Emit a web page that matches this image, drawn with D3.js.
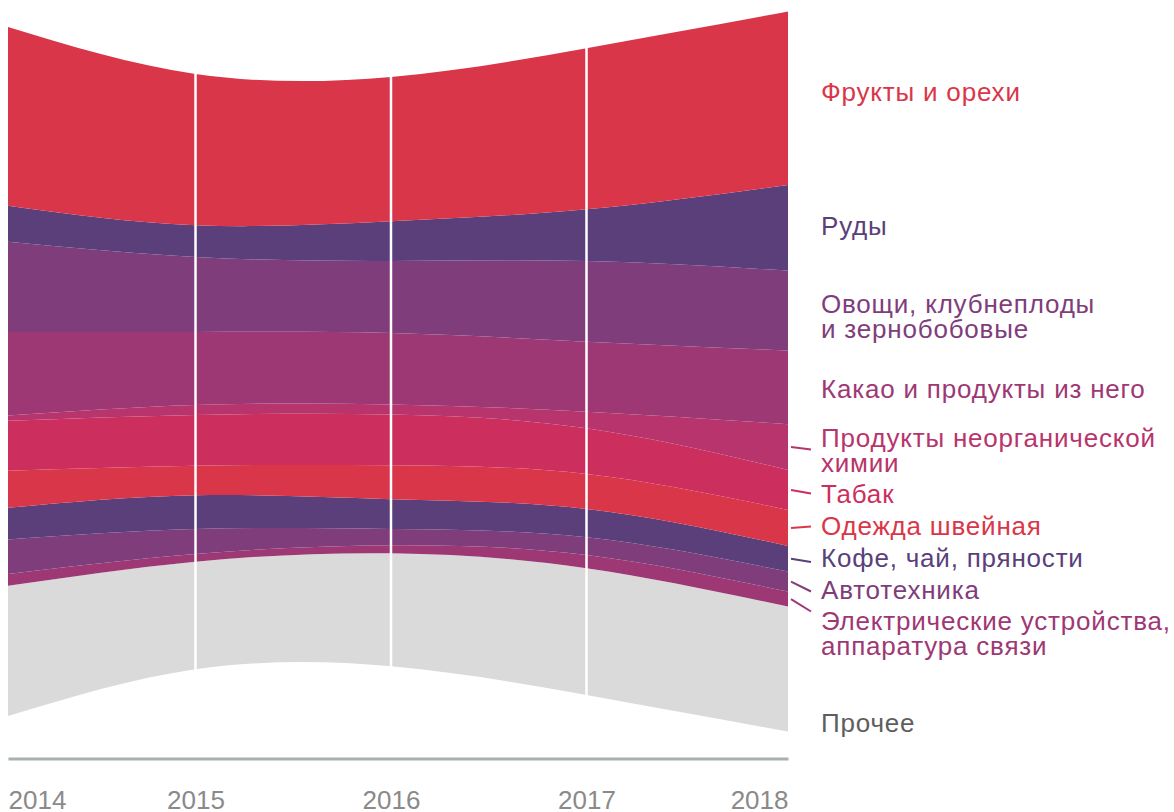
<!DOCTYPE html>
<html>
<head>
<meta charset="utf-8">
<script src="https://cdn.jsdelivr.net/npm/d3@7"></script>
<style>
  body { margin: 0; background: #fff; }
  svg { display: block; }
  text { font-family: "Liberation Sans", Arial, sans-serif; }
</style>
</head>
<body>
<script>
// years and categories (top to bottom as drawn)
const years = [2014, 2015, 2016, 2017, 2018];
const categories = [
  "Фрукты и орехи",
  "Руды",
  "Овощи, клубнеплоды и зернобобовые",
  "Какао и продукты из него",
  "Продукты неорганической химии",
  "Табак",
  "Одежда швейная",
  "Кофе, чай, пряности",
  "Автотехника",
  "Электрические устройства, аппаратура связи",
  "Прочее"
];

// series values, one per category, by year
const fruitsNuts   = [178.7, 151.3, 144.3, 161.0, 173.3];
const ores         = [36.0, 31.7, 39.7, 51.7, 85.7];
const vegetables   = [90.3, 75.0, 72.0, 80.7, 80.0];
const cocoa        = [83.5, 73.0, 71.5, 70.0, 73.6];
const inorganic    = [5.2, 10.0, 10.0, 16.6, 45.7];
const tobacco      = [50.0, 50.7, 50.8, 45.7, 40.0];
const clothing     = [37.0, 29.6, 33.9, 35.0, 36.0];
const coffeeTea    = [31.6, 33.7, 29.8, 28.3, 25.7];
const vehicles     = [34.7, 25.0, 16.3, 17.7, 20.0];
const electrical   = [11.7, 7.7, 8.0, 13.3, 15.0];
const other        = [130.3, 107.6, 113.0, 126.7, 125.0];

const seriesValues = [fruitsNuts, ores, vegetables, cocoa, inorganic, tobacco,
                      clothing, coffeeTea, vehicles, electrical, other];

// label text lines (right side)
const labelLines = [
  ["Фрукты и орехи"],
  ["Руды"],
  ["Овощи, клубнеплоды", "и зернобобовые"],
  ["Какао и продукты из него"],
  ["Продукты неорганической", "химии"],
  ["Табак"],
  ["Одежда швейная"],
  ["Кофе, чай, пряности"],
  ["Автотехника"],
  ["Электрические устройства,", "аппаратура связи"],
  ["Прочее"]
];

const colors = ["#da3649", "#5a3f7b", "#7f3d7c", "#9e3875", "#b8346c", "#cc2f5e",
                "#da3649", "#5a3f7b", "#7f3d7c", "#9e3875", "#dadada"];
const labelColors = colors.slice(0, 10).concat(["#5e5e5e"]);

// label layout: baseline of first line, leader end y (null = no leader)
const labelBaseline = [100.5, 235, 313, 398, 446.5, 502.5, 535, 567, 599, 630, 732];
const leaderEnd = [null, null, null, null, 449.5, 493.5, 526.5, 562, 591.5, 611.5, null];

const W = 1174, H = 812;

const svg = d3.select("body").append("svg")
  .attr("width", W)
  .attr("height", H);

const table = years.map((yr, i) => {
  const row = {year: yr};
  categories.forEach((c, j) => { row[c] = seriesValues[j][i]; });
  return row;
});

const stack = d3.stack()
  .keys(categories.slice().reverse())
  .offset(d3.stackOffsetSilhouette);
const layers = stack(table);

const x = d3.scaleLinear()
  .domain(years)
  .range([8, 195.5, 391, 586.5, 788]);

const y = d3.scaleLinear()
  .domain([-400, 400])
  .range([771.6, -28.4]);

const area = d3.area()
  .x(d => x(d.data.year))
  .y0(d => y(d[0]))
  .y1(d => y(d[1]))
  .curve(d3.curveNatural);

svg.append("g").selectAll("path")
  .data(layers)
  .enter()
  .append("path")
  .attr("d", area)
  .attr("fill", d => colors[categories.indexOf(d.key)]);

// white year separators
const topLayer = layers[layers.length - 1], bottomLayer = layers[0];
svg.append("g").selectAll("line")
  .data(years.slice(1, -1))
  .enter()
  .append("line")
  .attr("x1", d => x(d))
  .attr("x2", d => x(d))
  .attr("y1", (d) => y(topLayer[years.indexOf(d)][1]) - 1)
  .attr("y2", (d) => y(bottomLayer[years.indexOf(d)][0]) + 1)
  .attr("stroke", "#fff")
  .attr("stroke-width", 2.5);

// bottom axis
const xAxis = d3.axisBottom(x)
  .tickValues(years)
  .tickSize(0)
  .tickFormat(d3.format("d"));

const axisG = svg.append("g")
  .attr("transform", "translate(0,758.5)")
  .call(xAxis);

axisG.select(".domain")
  .attr("stroke", "#a6b1b0")
  .attr("stroke-width", 3);

axisG.selectAll("text")
  .attr("y", 50.5)
  .attr("dy", 0)
  .attr("fill", "#8a8a8a")
  .style("font-size", "26px")
  .style("font-family", "'Liberation Sans', Arial, sans-serif")
  .attr("text-anchor", (d, i) => i === 0 ? "start" : (i === years.length - 1 ? "end" : "middle"));

// leader lines
const last = years.length - 1;
svg.append("g").selectAll("line")
  .data(categories.filter((c, i) => leaderEnd[i] !== null))
  .enter()
  .append("line")
  .attr("x1", 791)
  .attr("x2", 811)
  .attr("y1", c => {
    const l = layers.find(s => s.key === c)[last];
    return y((l[0] + l[1]) / 2);
  })
  .attr("y2", c => leaderEnd[categories.indexOf(c)])
  .attr("stroke", c => labelColors[categories.indexOf(c)])
  .attr("stroke-width", 2);

// labels
const labels = svg.append("g").selectAll("text")
  .data(categories)
  .enter()
  .append("text")
  .attr("x", 821)
  .attr("y", (c, i) => labelBaseline[i])
  .attr("fill", (c, i) => labelColors[i])
  .style("font-size", "26px")
  .style("letter-spacing", "0.8px");

labels.each(function(c, i) {
  d3.select(this).selectAll("tspan")
    .data(labelLines[i])
    .enter()
    .append("tspan")
    .attr("x", 821)
    .attr("dy", (t, k) => k === 0 ? 0 : 25)
    .text(t => t);
});
</script>
</body>
</html>
